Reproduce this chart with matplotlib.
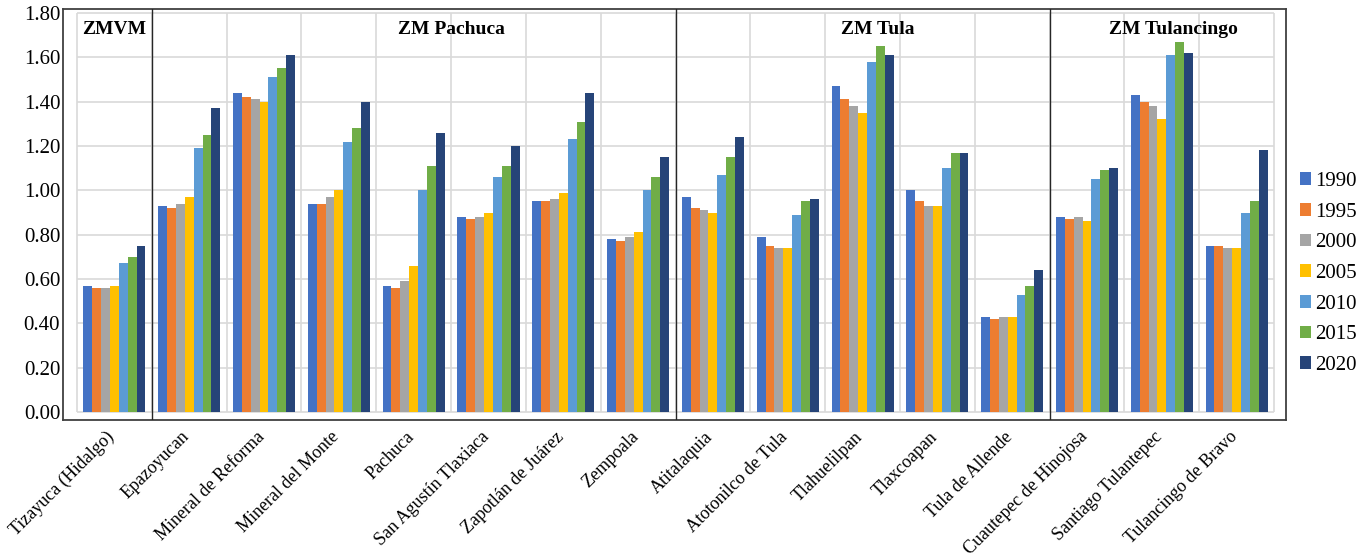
import numpy as np
import matplotlib.pyplot as plt

plt.rcParams['font.family'] = ['Liberation Serif', 'DejaVu Serif']

municipios = ["Tizayuca (Hidalgo)", "Epazoyucan", "Mineral de Reforma",
              "Mineral del Monte", "Pachuca", "San Agustín Tlaxiaca",
              "Zapotlán de Juárez", "Zempoala", "Atitalaquia",
              "Atotonilco de Tula", "Tlahuelilpan", "Tlaxcoapan",
              "Tula de Allende", "Cuautepec de Hinojosa",
              "Santiago Tulantepec", "Tulancingo de Bravo"]
years = ["1990", "1995", "2000", "2005", "2010", "2015", "2020"]

v1990 = [0.57, 0.93, 1.44, 0.94, 0.57, 0.88, 0.95, 0.78, 0.97, 0.79, 1.47, 1.00, 0.43, 0.88, 1.43, 0.75]
v1995 = [0.56, 0.92, 1.42, 0.94, 0.56, 0.87, 0.95, 0.77, 0.92, 0.75, 1.41, 0.95, 0.42, 0.87, 1.40, 0.75]
v2000 = [0.56, 0.94, 1.41, 0.97, 0.59, 0.88, 0.96, 0.79, 0.91, 0.74, 1.38, 0.93, 0.43, 0.88, 1.38, 0.74]
v2005 = [0.57, 0.97, 1.40, 1.00, 0.66, 0.90, 0.99, 0.81, 0.90, 0.74, 1.35, 0.93, 0.43, 0.86, 1.32, 0.74]
v2010 = [0.67, 1.19, 1.51, 1.22, 1.00, 1.06, 1.23, 1.00, 1.07, 0.89, 1.58, 1.10, 0.53, 1.05, 1.61, 0.90]
v2015 = [0.70, 1.25, 1.55, 1.28, 1.11, 1.11, 1.31, 1.06, 1.15, 0.95, 1.65, 1.17, 0.57, 1.09, 1.67, 0.95]
v2020 = [0.75, 1.37, 1.61, 1.40, 1.26, 1.20, 1.44, 1.15, 1.24, 0.96, 1.61, 1.17, 0.64, 1.10, 1.62, 1.18]
series = [v1990, v1995, v2000, v2005, v2010, v2015, v2020]

colors = ["#4472C4", "#ED7D31", "#A5A5A5", "#FFC000", "#5B9BD5", "#70AD47", "#264478"]

# metropolitan zones: label, label position, first category after the zone
zonas = ["ZMVM", "ZM Pachuca", "ZM Tula", "ZM Tulancingo"]
zona_x = [0.0, 4.5, 10.2, 14.15]
cortes = [0.5, 7.5, 12.5]

fig = plt.figure(figsize=(13.66, 5.56), dpi=100)
ax = fig.add_axes([63 / 1366, 136 / 556, 1223 / 1366, 411 / 556])

x = np.arange(len(municipios))
w = 0.1185
for i, (vals, c, yr) in enumerate(zip(series, colors, years)):
    ax.bar(x + (i - 3) * w, vals, width=w, color=c, label=yr, zorder=3)

# light grid only over the data area
n = len(municipios)
ax.hlines(np.arange(0, 1.81, 0.2), -0.5, n - 0.5, color="#d9d9d9", lw=1.2, zorder=1)
ax.vlines(np.arange(-0.5, n), 0, 1.8, color="#d9d9d9", lw=1.2, zorder=1)
for c in cortes:
    ax.axvline(c, color="#262626", lw=1.0, zorder=4)

for z, zx in zip(zonas, zona_x):
    ax.text(zx, 1.725, z, ha="center", va="center", fontsize=14,
            fontweight="bold", zorder=5)

ax.set_xlim(-0.687, n - 0.5 + 0.16)
ax.set_ylim(-0.036, 1.818)
ax.set_yticks(np.arange(0, 1.81, 0.2))
ax.set_yticklabels([f"{t:.2f}" for t in np.arange(0, 1.81, 0.2)], fontsize=15)
ax.set_xticks(x + 0.05)
ax.set_xticklabels(municipios, rotation=45, ha="right", fontsize=13)
ax.tick_params(axis="y", length=0, pad=2)
ax.tick_params(axis="x", length=0, pad=6)
for s in ax.spines.values():
    s.set_color("#404040")
    s.set_linewidth(1.3)

fig.legend(loc="center left", bbox_to_anchor=(1300 / 1366, 0.508), frameon=False,
           fontsize=15, handlelength=0.55, handleheight=0.55, handletextpad=0.2,
           labelspacing=0.56, borderpad=0, borderaxespad=0)

fig.savefig("out.png", dpi=100)
